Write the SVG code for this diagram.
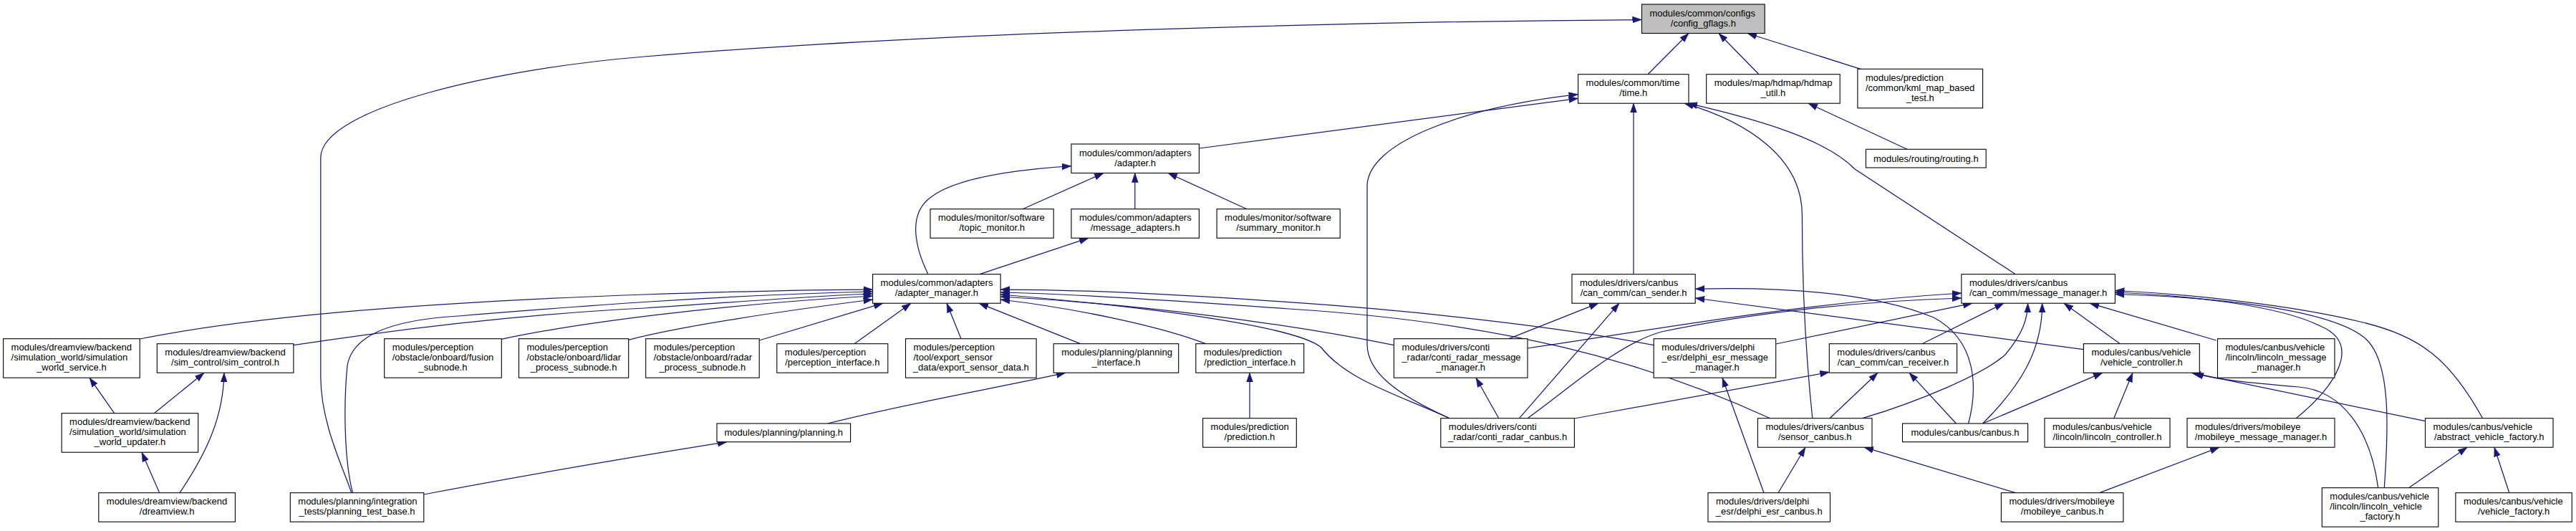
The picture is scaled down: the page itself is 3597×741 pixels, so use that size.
<svg xmlns="http://www.w3.org/2000/svg" width="3597" height="741" viewBox="0 0 3597 741">
<style>
rect{fill:#fff;stroke:#000;stroke-width:1.1}
rect.root{fill:#bfbfbf}
text{font-family:"Liberation Sans",Arial,sans-serif;font-size:13px;fill:#000}
text.c{text-anchor:middle}
#edges path{fill:none;stroke:#191970;stroke-width:1.25;marker-end:url(#a)}
</style>
<defs>
<marker id="a" viewBox="0 0 13 10" refX="13" refY="5" markerWidth="13" markerHeight="10" markerUnits="userSpaceOnUse" orient="auto"><path d="M0,0.5 L13,5 L0,9.5 z" fill="#191970" stroke="#191970" stroke-width="0.5"/></marker>
</defs>
<rect x="0" y="0" width="3597" height="741" style="fill:#fff;stroke:none"/>
<g id="edges">
<path d="M2301,103.7 L2358,46.5"/>
<path d="M2456,103.7 L2400,46.5"/>
<path d="M2598,96.3 L2440,46.5"/>
<path d="M490.8,687.7 C478,650 448,590 447.8,526 L447.8,220 C447.8,150 700,95 900,79 C1300,45 1900,30 2292.5,27.5"/>
<path d="M1674.4,207 L2203.6,137.3"/>
<path d="M2024,583.7 C1950,550 1909,520 1909,480 L1909,260 C1909,200 2040,150 2203.6,131.7"/>
<path d="M2281,382.7 L2281,144.2"/>
<path d="M2530.8,583.7 C2522,500 2516.4,400 2516.4,300 C2516.4,220 2440,170 2352,144.2"/>
<path d="M2814.4,382.7 L2590,236 C2550,195 2460,168 2357,144.2"/>
<path d="M2663,208.3 L2525,144.2"/>
<path d="M1428,291.7 L1541,241.5"/>
<path d="M1584.8,291.7 L1584.8,241.5"/>
<path d="M1741,291.7 L1631,241.5"/>
<path d="M1296,382.7 C1280,350 1265,300 1300,275 C1330,252 1400,238 1495.9,231.7"/>
<path d="M1368,382.7 L1520,332.2"/>
<path d="M195.2,473 C300,452 500,425 900,411 C1050,406 1150,404 1218.6,404"/>
<path d="M409.9,481.7 C500,468 700,440 900,430 C1050,420 1150,412 1218.6,410"/>
<path d="M492.5,687.7 C480,640 480,560 485,510 C492,470 540,447 640,441 C800,428 1000,412 1218.6,407"/>
<path d="M700.3,473.3 C800,452 1000,425 1218.6,413"/>
<path d="M877.7,474.3 C950,455 1100,433 1218.6,418"/>
<path d="M1060.2,475 L1233,423.2"/>
<path d="M1193,479.7 L1272,423.2"/>
<path d="M1342,472.7 L1322,423.2"/>
<path d="M1508.5,479.7 L1367,423.2"/>
<path d="M1683.6,479.7 C1620,455 1500,430 1397.1,418"/>
<path d="M1946.4,481.7 C1800,452 1600,425 1397.1,414"/>
<path d="M2309.2,481.7 C2200,460 2000,435 1800,421.7 C1650,411 1500,404 1397.1,404"/>
<path d="M2024,583.7 C1950,550 1880,530 1845,485 C1810,455 1600,428 1397.1,411"/>
<path d="M2471.6,583.7 C2300,505 2100,450 1800,431 C1650,420 1500,410 1397.1,408"/>
<path d="M2107,472.7 L2232,423.2"/>
<path d="M2121.5,583.7 L2261,423.2"/>
<path d="M2748.6,591 C2762,540 2760,475 2700,443 C2620,410 2500,400 2367.2,403.3"/>
<path d="M2909.4,487.7 L2367.2,416"/>
<path d="M2133,486 C2300,462 2500,424 2738.9,409"/>
<path d="M2133,583.7 C2200,535 2260,480 2320,463 C2450,436 2600,420 2738.9,416"/>
<path d="M2479.7,480 L2754,423.2"/>
<path d="M2684,479.7 L2798,423.2"/>
<path d="M2600.8,583.7 C2680,560 2770,522 2800,495 C2825,465 2831,445 2831.6,423.2"/>
<path d="M2768.6,591 C2820,540 2852,490 2851.6,423.2"/>
<path d="M2960.3,479.7 L2882,423.2"/>
<path d="M3094.7,475 L2918,423.2"/>
<path d="M3206.3,583.7 C3260,540 3300,480 3240,455 C3180,425 3050,412 2953.4,408"/>
<path d="M3329.3,680.7 C3335,600 3340,500 3300,470 C3250,432 3100,415 2953.4,410.5"/>
<path d="M3466.6,583.7 C3420,500 3380,470 3300,450 C3200,425 3050,410 2953.4,405.5"/>
<path d="M2198.4,584 L2554.3,519.3"/>
<path d="M2555,583.7 L2622,520.2"/>
<path d="M2731.5,591 L2666,520.2"/>
<path d="M2768.6,591 L2936,520.2"/>
<path d="M2951.7,583.7 L2978,520.2"/>
<path d="M3386.5,587.7 L3060,520.2"/>
<path d="M3320.7,680.7 C3310,600 3270,545 3210,540 C3150,535 3090,530 3064,520.2"/>
<path d="M3363.6,680.7 L3445,624.2"/>
<path d="M3503.8,687.7 L3483,624.2"/>
<path d="M2931.7,687.7 L3099,624.2"/>
<path d="M2483,687.7 L2521,624.2"/>
<path d="M2814.4,687.7 L2603,624.2"/>
<path d="M2092.8,583.7 L2061,527.2"/>
<path d="M2463,687.7 L2405,527.2"/>
<path d="M159.6,576.7 L125,527.2"/>
<path d="M215.3,576.7 L285,520.2"/>
<path d="M250.9,687.7 C290,630 312,580 312.9,520.2"/>
<path d="M222.7,687.7 L198,631.2"/>
<path d="M1155.5,591 C1280,560 1400,540 1488,520.2"/>
<path d="M1745,583.7 L1745,520.2"/>
<path d="M591.8,690 C750,660 900,635 1015,616.7"/>
</g>

<g id="n_config"><rect class="root" x="2292.5" y="6" width="171.7" height="40.5"/><text x="2303.5" y="22.75">modules/common/configs</text><text class="c" x="2378.35" y="36.75">/config_gflags.h</text></g>
<g id="n_time"><rect x="2203.6" y="103.7" width="154.4" height="40.5"/><text x="2214.6" y="120.45">modules/common/time</text><text class="c" x="2280.8" y="134.45">/time.h</text></g>
<g id="n_hdmap"><rect x="2382.7" y="103.7" width="186.5" height="40.5"/><text x="2393.7" y="120.45">modules/map/hdmap/hdmap</text><text class="c" x="2475.95" y="134.45">_util.h</text></g>
<g id="n_kml"><rect x="2593.9" y="96.3" width="174.7" height="54.5"/><text x="2604.9" y="113.05">modules/prediction</text><text x="2604.9" y="127.05">/common/kml_map_based</text><text class="c" x="2681.25" y="141.05">_test.h</text></g>
<g id="n_adapter"><rect x="1495.9" y="201" width="178.5" height="40.5"/><text x="1506.9" y="217.75">modules/common/adapters</text><text class="c" x="1585.15" y="231.75">/adapter.h</text></g>
<g id="n_routing"><rect x="2605.4" y="208.3" width="167.8" height="25.7"/><text class="c" x="2689.3" y="225.65">modules/routing/routing.h</text></g>
<g id="n_topic"><rect x="1299" y="291.7" width="172.2" height="40.5"/><text x="1310" y="308.45">modules/monitor/software</text><text class="c" x="1385.1" y="322.45">/topic_monitor.h</text></g>
<g id="n_msgadapters"><rect x="1495.9" y="291.7" width="178.5" height="40.5"/><text x="1506.9" y="308.45">modules/common/adapters</text><text class="c" x="1585.15" y="322.45">/message_adapters.h</text></g>
<g id="n_summary"><rect x="1699.1" y="291.7" width="172.1" height="40.5"/><text x="1710.1" y="308.45">modules/monitor/software</text><text class="c" x="1785.15" y="322.45">/summary_monitor.h</text></g>
<g id="n_adaptermgr"><rect x="1218.6" y="382.7" width="178.5" height="40.5"/><text x="1229.6" y="399.45">modules/common/adapters</text><text class="c" x="1307.85" y="413.45">/adapter_manager.h</text></g>
<g id="n_cansender"><rect x="2195" y="382.7" width="172.2" height="40.5"/><text x="2206" y="399.45">modules/drivers/canbus</text><text class="c" x="2281.1" y="413.45">/can_comm/can_sender.h</text></g>
<g id="n_msgmgr"><rect x="2738.9" y="382.7" width="214.5" height="40.5"/><text x="2749.9" y="399.45">modules/drivers/canbus</text><text class="c" x="2846.15" y="413.45">/can_comm/message_manager.h</text></g>

<g id="n_simservice"><rect x="4.6" y="472.7" width="190.6" height="54.5"/><text x="15.6" y="489.45">modules/dreamview/backend</text><text x="15.6" y="503.45">/simulation_world/simulation</text><text class="c" x="99.9" y="517.45">_world_service.h</text></g>
<g id="n_simcontrol"><rect x="219.3" y="479.7" width="190.6" height="40.5"/><text x="230.3" y="496.45">modules/dreamview/backend</text><text class="c" x="314.6" y="510.45">/sim_control/sim_control.h</text></g>
<g id="n_fusion"><rect x="536.7" y="472.7" width="163.6" height="54.5"/><text x="547.7" y="489.45">modules/perception</text><text x="547.7" y="503.45">/obstacle/onboard/fusion</text><text class="c" x="618.5" y="517.45">_subnode.h</text></g>
<g id="n_lidar"><rect x="724.5" y="472.7" width="153.2" height="54.5"/><text x="735.5" y="489.45">modules/perception</text><text x="735.5" y="503.45">/obstacle/onboard/lidar</text><text class="c" x="801.1" y="517.45">_process_subnode.h</text></g>
<g id="n_radar"><rect x="901.7" y="472.7" width="158.5" height="54.5"/><text x="912.7" y="489.45">modules/perception</text><text x="912.7" y="503.45">/obstacle/onboard/radar</text><text class="c" x="980.95" y="517.45">_process_subnode.h</text></g>
<g id="n_perceptionif"><rect x="1084.8" y="479.7" width="155" height="40.5"/><text x="1095.8" y="496.45">modules/perception</text><text class="c" x="1162.3" y="510.45">/perception_interface.h</text></g>
<g id="n_export"><rect x="1264.5" y="472.7" width="182.6" height="54.5"/><text x="1275.5" y="489.45">modules/perception</text><text x="1275.5" y="503.45">/tool/export_sensor</text><text class="c" x="1355.8" y="517.45">_data/export_sensor_data.h</text></g>
<g id="n_planningif"><rect x="1471.2" y="479.7" width="174.5" height="40.5"/><text x="1482.2" y="496.45">modules/planning/planning</text><text class="c" x="1558.45" y="510.45">_interface.h</text></g>
<g id="n_predictionif"><rect x="1669.8" y="479.7" width="150.9" height="40.5"/><text x="1680.8" y="496.45">modules/prediction</text><text class="c" x="1745.25" y="510.45">/prediction_interface.h</text></g>
<g id="n_contimsg"><rect x="1946.4" y="472.7" width="186.6" height="54.5"/><text x="1957.4" y="489.45">modules/drivers/conti</text><text x="1957.4" y="503.45">_radar/conti_radar_message</text><text class="c" x="2039.7" y="517.45">_manager.h</text></g>
<g id="n_delphimsg"><rect x="2309.2" y="472.7" width="170.5" height="54.5"/><text x="2320.2" y="489.45">modules/drivers/delphi</text><text x="2320.2" y="503.45">_esr/delphi_esr_message</text><text class="c" x="2394.45" y="517.45">_manager.h</text></g>
<g id="n_canreceiver"><rect x="2554.3" y="479.7" width="178.3" height="40.5"/><text x="2565.3" y="496.45">modules/drivers/canbus</text><text class="c" x="2643.45" y="510.45">/can_comm/can_receiver.h</text></g>
<g id="n_vehiclectrl"><rect x="2909.4" y="479.7" width="161.9" height="40.5"/><text x="2920.4" y="496.45">modules/canbus/vehicle</text><text class="c" x="2990.35" y="510.45">/vehicle_controller.h</text></g>
<g id="n_lincolnmsg"><rect x="3096.5" y="472.7" width="163.5" height="54.5"/><text x="3107.5" y="489.45">modules/canbus/vehicle</text><text x="3107.5" y="503.45">/lincoln/lincoln_message</text><text class="c" x="3178.25" y="517.45">_manager.h</text></g>

<g id="n_simupdater"><rect x="86.1" y="576.7" width="190.6" height="54.5"/><text x="97.1" y="593.45">modules/dreamview/backend</text><text x="97.1" y="607.45">/simulation_world/simulation</text><text class="c" x="181.4" y="621.45">_world_updater.h</text></g>
<g id="n_planning"><rect x="1001" y="591" width="186.6" height="25.7"/><text class="c" x="1094.3" y="608.35">modules/planning/planning.h</text></g>
<g id="n_prediction"><rect x="1679.6" y="583.7" width="130.7" height="40.5"/><text x="1690.6" y="600.45">modules/prediction</text><text class="c" x="1744.95" y="614.45">/prediction.h</text></g>
<g id="n_contican"><rect x="2011.8" y="583.7" width="186.6" height="40.5"/><text x="2022.8" y="600.45">modules/drivers/conti</text><text class="c" x="2105.1" y="614.45">_radar/conti_radar_canbus.h</text></g>
<g id="n_sensorcan"><rect x="2454.4" y="583.7" width="159.6" height="40.5"/><text x="2465.4" y="600.45">modules/drivers/canbus</text><text class="c" x="2534.2" y="614.45">/sensor_canbus.h</text></g>
<g id="n_canbus"><rect x="2656.5" y="591" width="175.1" height="25.7"/><text class="c" x="2744.05" y="608.35">modules/canbus/canbus.h</text></g>
<g id="n_lincolnctrl"><rect x="2855" y="583.7" width="175" height="40.5"/><text x="2866" y="600.45">modules/canbus/vehicle</text><text class="c" x="2942.5" y="614.45">/lincoln/lincoln_controller.h</text></g>
<g id="n_mobileyemsg"><rect x="3054" y="583.7" width="206" height="40.5"/><text x="3065" y="600.45">modules/drivers/mobileye</text><text class="c" x="3157" y="614.45">/mobileye_message_manager.h</text></g>
<g id="n_abstractvf"><rect x="3386.5" y="583.7" width="178.5" height="40.5"/><text x="3397.5" y="600.45">modules/canbus/vehicle</text><text class="c" x="3475.75" y="614.45">/abstract_vehicle_factory.h</text></g>

<g id="n_dreamview"><rect x="137.8" y="687.7" width="190.6" height="40.5"/><text x="148.8" y="704.45">modules/dreamview/backend</text><text class="c" x="233.1" y="718.45">/dreamview.h</text></g>
<g id="n_ptb"><rect x="405.3" y="687.7" width="186.5" height="40.5"/><text x="416.3" y="704.45">modules/planning/integration</text><text class="c" x="498.55" y="718.45">_tests/planning_test_base.h</text></g>
<g id="n_delphican"><rect x="2385" y="687.7" width="170.5" height="40.5"/><text x="2396" y="704.45">modules/drivers/delphi</text><text class="c" x="2470.25" y="718.45">_esr/delphi_esr_canbus.h</text></g>
<g id="n_mobileyecan"><rect x="2794.4" y="687.7" width="170.5" height="40.5"/><text x="2805.4" y="704.45">modules/drivers/mobileye</text><text class="c" x="2879.65" y="718.45">/mobileye_canbus.h</text></g>
<g id="n_lincolnvf"><rect x="3242.3" y="680.7" width="162.5" height="54.5"/><text x="3253.3" y="697.45">modules/canbus/vehicle</text><text x="3253.3" y="711.45">/lincoln/lincoln_vehicle</text><text class="c" x="3323.55" y="725.45">_factory.h</text></g>
<g id="n_vf"><rect x="3428.9" y="687.7" width="162.4" height="40.5"/><text x="3439.9" y="704.45">modules/canbus/vehicle</text><text class="c" x="3510.1" y="718.45">/vehicle_factory.h</text></g>
</svg>
